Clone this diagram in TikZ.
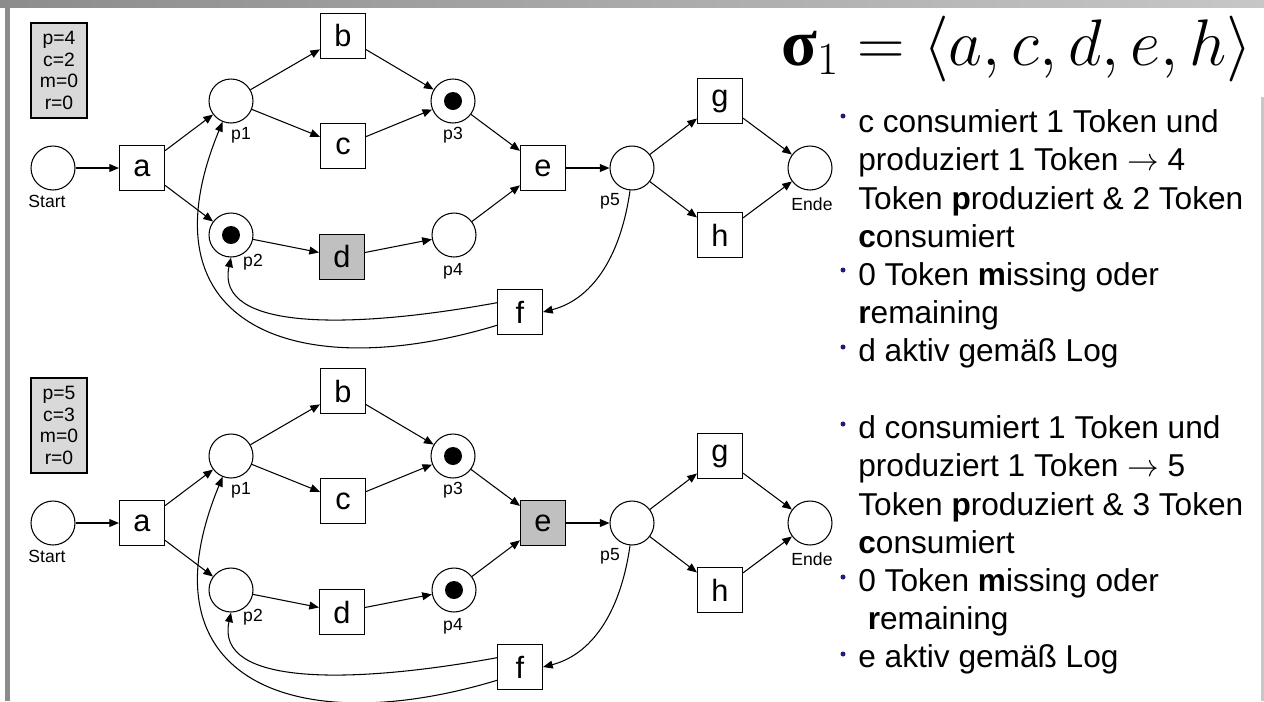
\RequirePackage{fix-cm}
\documentclass[tikz,border=0pt]{standalone}
\usepackage{amsmath}
\usepackage{fontspec}
\setmainfont{Liberation Sans}
\newfontfamily\tracefont{Liberation Serif}
\usetikzlibrary{arrows.meta}

\definecolor{activegray}{RGB}{192,192,192}
\definecolor{countgray}{RGB}{217,217,217}
\definecolor{bulletblue}{RGB}{30,30,120}

\tikzset{
  place/.style={circle,draw,line width=0.6pt,minimum size=0.88cm,inner sep=0pt},
  trans/.style={rectangle,draw,line width=0.6pt,minimum size=0.9cm,inner sep=0pt,
    font=\fontsize{17.5}{19}\selectfont},
  lbl/.style={inner sep=0pt,font=\fontsize{10}{12}\selectfont},
  counter/.style={draw,fill=countgray,line width=0.8pt,align=center,inner sep=0pt,
    minimum width=1.12cm,minimum height=1.9cm,font=\fontsize{11}{12.3}\selectfont},
  arc/.style={-{Triangle[length=5.5pt,width=4.5pt]},line width=0.6pt},
  bullettext/.style={anchor=north west,inner sep=0pt,align=left,
    font=\fontsize{18}{21.7}\selectfont}
}

\begin{document}
\begin{tikzpicture}[x=0.02cm,y=-0.02cm]
\useasboundingbox (0,0) rectangle (1264,701);

% slide frame
\shade[left color=black!45,right color=black!22] (0,0) rectangle (1264,7);
\fill[black!45] (5,7) rectangle (10,701);
\fill[black!22] (1261,97) rectangle (1264,701);

% the two markings of the same net
\foreach \k/\dy/\pv/\cv/\dcol/\ecol/\tka/\tkb in
  {1/0/4/2/activegray/white/p2/p3, 2/355/5/3/white/activegray/p3/p4} {
\begin{scope}[shift={(0,\dy)}]
  \node[counter] (cnt-\k) at (59,70.5) {p=\pv\\c=\cv\\m=0\\r=0};

  \node[place] (start-\k) at (53,168) {};
  \node[trans] (a-\k) at (142,168) {a};
  \node[place] (p1-\k) at (231,101) {};
  \node[place] (p2-\k) at (231,235) {};
  \node[trans] (b-\k) at (343,36) {b};
  \node[trans] (c-\k) at (343,146) {c};
  \node[trans,fill=\dcol] (d-\k) at (342,257) {d};
  \node[place] (p3-\k) at (453,101) {};
  \node[place] (p4-\k) at (454,235) {};
  \node[trans,fill=\ecol] (e-\k) at (543,168) {e};
  \node[trans] (f-\k) at (520,312) {f};
  \node[place] (p5-\k) at (632,168) {};
  \node[trans] (g-\k) at (720,101) {g};
  \node[trans] (h-\k) at (720,235) {h};
  \node[place] (ende-\k) at (810,168) {};

  % tokens
  \fill (\tka-\k) circle (0.18cm);
  \fill (\tkb-\k) circle (0.18cm);

  \node[lbl] (lstart-\k) at (47,201) {Start};
  \node[lbl] (lp1-\k) at (241,135) {p1};
  \node[lbl] (lp2-\k) at (253,262) {p2};
  \node[lbl] (lp3-\k) at (453,135) {p3};
  \node[lbl] (lp4-\k) at (453,271) {p4};
  \node[lbl] (lp5-\k) at (610,201) {p5};
  \node[lbl] (lende-\k) at (812,204) {Ende};

  \foreach \u/\v in {start/a,a/p1,a/p2,p1/b,p1/c,p2/d,b/p3,c/p3,d/p4,
                     p3/e,p4/e,e/p5,p5/g,p5/h,g/ende,h/ende}
    \draw[arc] (\u-\k) -- (\v-\k);

  % loop back through f
  \draw[arc] (p5-\k.265) .. controls +(-10,70) and +(47,-12) .. (f-\k.east);
  \draw[arc] (f-\k.158) .. controls +(-148,27) and +(-16,73) .. (p2-\k.south);
  \draw[arc] (f-\k.210) .. controls +(-198,60) and +(-85,206) .. (p1-\k.248);
\end{scope}
}

\node[anchor=base west,inner sep=0pt,font=\fontsize{37.5}{40}\selectfont] (trace) at (781,65)
  {{\tracefont\bfseries σ}$_{1} = \langle a,c,d,e,h\rangle$};

\node[bullettext] (note-1) at (858,109.5)
  {c consumiert 1 Token und\\
   produziert 1 Token $\rightarrow$ 4\\
   Token \textbf{p}roduziert \& 2 Token\\
   \textbf{c}onsumiert\\
   0 Token \textbf{m}issing oder\\
   \textbf{r}emaining\\
   d aktiv gemäß Log};
\node[bullettext] (note-2) at (858,415.5)
  {d consumiert 1 Token und\\
   produziert 1 Token $\rightarrow$ 5\\
   Token \textbf{p}roduziert \& 3 Token\\
   \textbf{c}onsumiert\\
   0 Token \textbf{m}issing oder\\
   \hspace{0.3em}\textbf{r}emaining\\
   e aktiv gemäß Log};

% bullets
\foreach \y in {116,270,347,424,577,654}
  \fill[bulletblue] (843,\y) circle (0.05cm);
\end{tikzpicture}
\end{document}
